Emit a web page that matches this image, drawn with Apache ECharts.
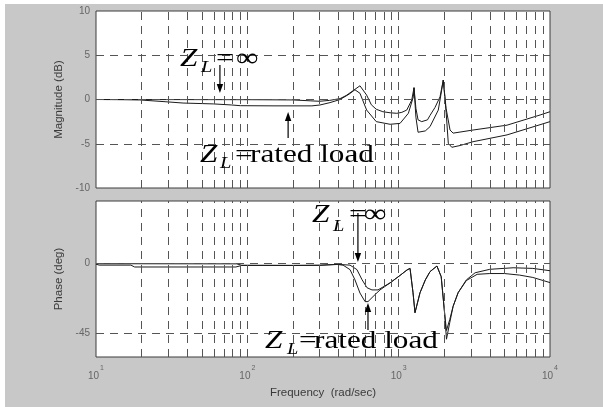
<!DOCTYPE html>
<html>
<head>
<meta charset="utf-8">
<style>
  html, body { margin: 0; padding: 0; background: #ffffff; }
  #wrap { position: relative; width: 603px; height: 407px; overflow: hidden; }
  #panel { position: absolute; left: 5px; top: 4px; right: 0; bottom: 0; background: #c8c8c8; }
  #chart { position: absolute; left: 0; top: 0; width: 603px; height: 407px; }
</style>
<script src="https://cdn.jsdelivr.net/npm/echarts@6/dist/echarts.min.js"></script>
</head>
<body>
<div id="wrap"><div id="panel"></div><div id="chart"></div></div>
<script>
// Bode response of the filter output, two load cases (Z_L = infinity, Z_L = rated load)

// Magnitude (dB), no load
const magFreqInf = [10, 100, 200, 260, 300, 350, 410, 450, 500, 555, 614, 660, 711, 786, 877, 972, 1050, 1131, 1220, 1263, 1300, 1343, 1420, 1550, 1611, 1738, 1876, 1972, 2057, 2185, 2290, 3100, 5200, 8600, 10000];
const magInf     = [0, -0.02, -0.05, -0.15, -0.2, -0.1, 0.1, 0.45, 1.0, 1.55, 0.5, -0.6, -1.1, -1.38, -1.5, -1.56, -1.45, -1.19, -0.06, 1.33, -1.0, -2.3, -2.5, -2.3, -1.8, -0.9, 0.3, 2.2, -1.0, -3.45, -3.8, -3.45, -2.9, -1.75, -1.38];

// Magnitude (dB), rated load
const magFreqRated = [10, 15, 19.5, 28.6, 37.6, 60, 79, 90, 150, 267, 302, 352, 410, 470, 514, 555, 614, 711, 877, 1021, 1159, 1250, 1263, 1300, 1343, 1384, 1500, 1611, 1827, 1900, 1972, 2060, 2128, 2244, 2545, 3100, 5200, 10000];
const magRated     = [0, -0.02, -0.05, -0.25, -0.4, -0.5, -0.62, -0.7, -0.72, -0.72, -0.62, -0.35, 0.0, 0.6, 1.1, 0.7, -1.19, -2.5, -2.8, -2.7, -1.56, 0.3, 1.33, -2.0, -3.7, -3.9, -3.55, -3.07, -1.2, 0.5, 2.2, -1.5, -4.95, -5.4, -5.2, -4.77, -4.0, -2.5];

// Phase (deg), no load
const phFreqInf = [10, 85, 92, 200, 300, 392, 477, 530, 573, 618, 666, 730, 877, 1021, 1136, 1189, 1244, 1282, 1384, 1500, 1611, 1790, 1845, 1910, 2010, 2070, 2175, 2290, 2470, 2800, 3200, 4000, 5700, 7700, 10000];
const phInf     = [-0.2, -0.3, -1.2, -1.3, -1.2, -0.6, -1.1, -4, -10.5, -15.6, -17, -17, -12.5, -7.7, -4.2, -3.2, -18.8, -31.6, -18.8, -10.6, -5.3, -1.7, -1.1, -8.5, -31.5, -43, -36, -27.5, -18.8, -10.6, -6, -3.8, -2.8, -3.2, -4.7];

// Phase (deg), rated load
const phFreqRated = [10, 10.5, 17, 18, 84, 92, 200, 300, 392, 429, 477, 514, 555, 600, 627, 698, 753, 877, 1021, 1136, 1189, 1244, 1282, 1384, 1500, 1611, 1790, 1845, 1910, 2010, 2070, 2175, 2290, 2470, 2800, 3300, 4000, 5000, 6300, 7700, 10000];
const phRated     = [-0.5, -1.1, -1.1, -2.3, -2.3, -1.3, -1.3, -1.2, -0.7, -1.1, -4, -10.5, -19, -24.5, -24.5, -20, -17, -12.5, -7.7, -4.2, -3.2, -18.8, -31.6, -18.8, -10.6, -5.3, -1.7, -1.1, -8.5, -31.5, -48.6, -38, -27.5, -18.8, -11, -7, -6.5, -6.5, -7.5, -9, -12.3];

// Axis ticks and grid positions
const freqGrid = [20, 30, 40, 50, 60, 70, 80, 90, 100, 200, 300, 400, 500, 600, 700, 800, 900, 1000, 2000, 3000, 4000, 5000, 6000, 7000, 8000, 9000];
const magTicks = [-10, -5, 0, 5, 10];
const magGrid = [-5, 0, 5];
const phaseTicks = [0, -45];
const phaseGrid = [0, -45];

const pairs = (xs, ys) => xs.map((x, i) => [x, ys[i]]);

const chart = echarts.init(document.getElementById('chart'), null, { renderer: 'canvas' });

const tickColor = '#666666';
const titleColor = '#3a3a3a';
const sans = '"Liberation Sans", Arial, sans-serif';
const serif = '"Liberation Serif", "Times New Roman", serif';
const gridLine = { color: '#555555', type: [8, 6], width: 1 };
const curve = { color: '#1a1a1a', width: 1 };

function gridSeries(ax, hValues) {
  return {
    type: 'line', xAxisIndex: ax, yAxisIndex: ax, data: [], silent: true, z: 1,
    markLine: {
      silent: true, symbol: 'none', animation: false,
      label: { show: false }, emphasis: { disabled: true },
      lineStyle: gridLine,
      data: freqGrid.map(f => ({ xAxis: f })).concat(hValues.map(v => ({ yAxis: v })))
    }
  };
}

function curveSeries(ax, data) {
  return {
    type: 'line', xAxisIndex: ax, yAxisIndex: ax, data: data,
    showSymbol: false, symbol: 'none', smooth: false, silent: true, z: 3,
    lineStyle: curve, animation: false
  };
}

const option = {
  animation: false,
  backgroundColor: 'transparent',
  grid: [
    { left: 96, top: 11, width: 454, height: 177, show: true, backgroundColor: '#ffffff', borderColor: '#3c3c3c', borderWidth: 1 },
    { left: 96, top: 201, width: 454, height: 156, show: true, backgroundColor: '#ffffff', borderColor: '#3c3c3c', borderWidth: 1 }
  ],
  xAxis: [
    { type: 'log', logBase: 10, gridIndex: 0, min: 10, max: 10000,
      axisLine: { show: false }, axisTick: { show: false }, axisLabel: { show: false }, splitLine: { show: false } },
    { type: 'log', logBase: 10, gridIndex: 1, min: 10, max: 10000,
      axisLine: { show: false }, axisTick: { show: false }, splitLine: { show: false },
      axisLabel: {
        margin: 8,
        formatter: v => '{b|10}{s|' + Math.round(Math.log10(v)) + '}',
        rich: {
          b: { fontSize: 10, fontFamily: sans, color: tickColor, lineHeight: 16, verticalAlign: 'bottom' },
          s: { fontSize: 7, fontFamily: sans, color: tickColor, lineHeight: 6, verticalAlign: 'top', padding: [0, 0, 0, 1] }
        }
      },
      name: 'Frequency  (rad/sec)', nameLocation: 'middle', nameGap: 30,
      nameTextStyle: { fontSize: 11.5, fontFamily: sans, color: titleColor } }
  ],
  yAxis: [
    { type: 'value', gridIndex: 0, min: -10, max: 10, interval: 5,
      axisLine: { show: false }, axisTick: { show: false }, splitLine: { show: false },
      axisLabel: { margin: 6, fontSize: 10, fontFamily: sans, color: tickColor, customValues: magTicks },
      name: 'Magnitude (dB)', nameLocation: 'middle', nameGap: 29,
      nameTextStyle: { fontSize: 11.5, fontFamily: sans, color: titleColor } },
    { type: 'value', gridIndex: 1, min: -60, max: 40,
      axisLine: { show: false }, axisTick: { show: false }, splitLine: { show: false },
      axisLabel: { margin: 6, fontSize: 10, fontFamily: sans, color: tickColor, customValues: phaseTicks },
      name: 'Phase (deg)', nameLocation: 'middle', nameGap: 29,
      nameTextStyle: { fontSize: 11.5, fontFamily: sans, color: titleColor } }
  ],
  series: [
    gridSeries(0, magGrid),
    gridSeries(1, phaseGrid),
    curveSeries(0, pairs(magFreqInf, magInf)),
    curveSeries(0, pairs(magFreqRated, magRated)),
    curveSeries(1, pairs(phFreqInf, phInf)),
    curveSeries(1, pairs(phFreqRated, phRated))
  ]
};

chart.setOption(option);

// Annotation arrows: tail and tip given in data space of each panel, converted through the axes
const arrowDefs = [
  { grid: 0, from: [65.9, 3.9], to: [65.9, 0.73] },
  { grid: 0, from: [186, -4.35], to: [186, -1.41] },
  { grid: 1, from: [538, 32.3], to: [538, 0.9] },
  { grid: 1, from: [627, -42.7], to: [627, -25.4] }
];

function arrow(def) {
  const a = chart.convertToPixel({ gridIndex: def.grid }, def.from);
  const b = chart.convertToPixel({ gridIndex: def.grid }, def.to);
  const dir = Math.sign(b[1] - a[1]);
  const headLen = 9, headHalf = 3.2;
  const base = b[1] - dir * headLen;
  return [
    { type: 'line', z: 90, silent: true,
      shape: { x1: a[0], y1: a[1], x2: b[0], y2: base },
      style: { stroke: '#000', lineWidth: 1.2 } },
    { type: 'polygon', z: 90, silent: true,
      shape: { points: [[b[0], b[1]], [b[0] - headHalf, base], [b[0] + headHalf, base]] },
      style: { fill: '#000' } }
  ];
}

function t(x, y, text, font) {
  return {
    type: 'text', x: x, y: y, scaleX: 1.2, z: 100, silent: true,
    style: { text: text, font: font, fill: '#000', textAlign: 'left', textVerticalAlign: 'middle' }
  };
}
const zFont = 'italic 26px ' + serif;
const lFont = 'italic 17px ' + serif;
const rFont = '26px ' + serif;

const labels = [
  // magnitude panel
  t(180, 58.7, 'Z', zFont), t(201, 67.5, 'L', lFont), t(216, 58.7, '=', rFont), t(236, 58.7, '\u221E', rFont),
  t(200, 154.7, 'Z', zFont), t(220, 164, 'L', lFont), t(235, 154.7, '=', rFont), t(250, 154.7, 'rated load', rFont),
  // phase panel
  t(312, 214.7, 'Z', zFont), t(333, 226.5, 'L', lFont), t(349, 214.7, '=', rFont), t(364, 214.7, '\u221E', rFont),
  t(265, 340.7, 'Z', zFont), t(287, 350, 'L', lFont), t(299, 340.7, '=', rFont), t(314, 340.7, 'rated load', rFont)
];

let graphics = labels.slice();
arrowDefs.forEach(d => { graphics = graphics.concat(arrow(d)); });
chart.setOption({ graphic: graphics });
</script>
</body>
</html>
